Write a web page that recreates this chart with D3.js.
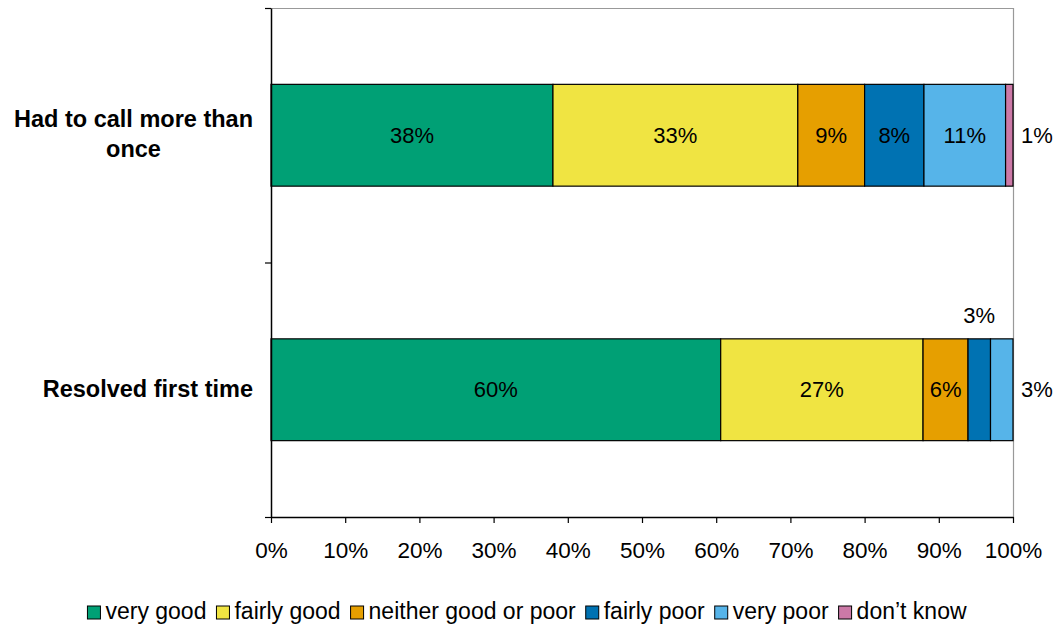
<!DOCTYPE html>
<html>
<head>
<meta charset="utf-8">
<script src="https://cdn.jsdelivr.net/npm/d3@7"></script>
<style>
  html, body { margin: 0; padding: 0; background: #fff; }
  svg { display: block; font-family: "Liberation Sans", Arial, sans-serif; }
</style>
</head>
<body>
<svg id="chart" width="1061" height="625"></svg>
<script>
// Survey responses: rating of service by call outcome (100% stacked)
const categories = ["Had to call more than once", "Resolved first time"];
const categoryLines = [["Had to call more than", "once"], ["Resolved first time"]];
const seriesNames = ["very good", "fairly good", "neither good or poor", "fairly poor", "very poor", "don’t know"];
const seriesColors = ["#00A075", "#F0E442", "#E69F00", "#0072B2", "#56B4E9", "#CC79A7"];

const veryGood   = [38, 60];
const fairlyGood = [33, 27];
const neither    = [9, 6];
const fairlyPoor = [8, 3];
const veryPoor   = [11, 3];
const dontKnow   = [1, 0];

const xTicks = [0, 10, 20, 30, 40, 50, 60, 70, 80, 90, 100];

const seriesValues = [veryGood, fairlyGood, neither, fairlyPoor, veryPoor, dontKnow];

const svg = d3.select("#chart");
const plot = { left: 271, right: 1013, top: 8, bottom: 517 };

// Rows normalised to 100%
const rows = categories.map((c, i) => {
  const row = { category: c };
  seriesNames.forEach((s, j) => { row[s] = seriesValues[j][i]; });
  return row;
});
const totals = rows.map(r => d3.sum(seriesNames, s => r[s]));
const normRows = rows.map((r, i) => {
  const o = { category: r.category };
  seriesNames.forEach(s => { o[s] = r[s] / totals[i] * 100; });
  return o;
});
const stacked = d3.stack().keys(seriesNames)(normRows);

const x = d3.scaleLinear().domain([0, 100]).range([plot.left, plot.right]);
const y = d3.scaleBand().domain(categories).range([plot.top, plot.bottom]).padding(0);
const yEdge = d3.scaleLinear().domain([0, categories.length]).range([plot.top, plot.bottom]);
const barFrac = 0.4;
const barH = y.bandwidth() * barFrac;
const barY = c => y(c) + (y.bandwidth() - barH) / 2;

// plot frame (top and right)
svg.append("line")
  .attr("x1", plot.left).attr("x2", plot.right + 0.5)
  .attr("y1", plot.top + 0.5).attr("y2", plot.top + 0.5)
  .attr("stroke", "#999").attr("stroke-width", 1.2);
svg.append("line")
  .attr("x1", plot.right + 0.5).attr("x2", plot.right + 0.5)
  .attr("y1", plot.top).attr("y2", plot.bottom)
  .attr("stroke", "#999").attr("stroke-width", 1.2);

// bars
const layer = svg.append("g").selectAll("g")
  .data(stacked)
  .join("g")
  .attr("fill", (d, i) => seriesColors[i]);

layer.selectAll("rect")
  .data(d => d.filter(p => p[1] - p[0] > 0))
  .join("rect")
  .attr("x", p => x(p[0]))
  .attr("y", p => barY(p.data.category))
  .attr("width", p => x(p[1]) - x(p[0]))
  .attr("height", barH)
  .attr("stroke", "#000")
  .attr("stroke-width", 1.2);

// value labels
const labelFont = 22;
const labels = svg.append("g").attr("font-size", labelFont).attr("fill", "#000");
categories.forEach((c, ci) => {
  const segs = stacked.map((layerData, si) => ({
    si, p0: layerData[ci][0], p1: layerData[ci][1], raw: seriesValues[si][ci]
  })).filter(s => s.raw > 0);
  const lastIdx = segs.length - 1;
  segs.forEach((s, k) => {
    const w = x(s.p1) - x(s.p0);
    const cy = barY(c) + barH / 2;
    let tx = (x(s.p0) + x(s.p1)) / 2, ty = cy;
    if (w < 30) {
      if (k === lastIdx) { tx = x(s.p1) + 24; }
      else { ty = barY(c) - 24; }
    }
    labels.append("text")
      .attr("x", tx).attr("y", ty)
      .attr("dy", "0.35em")
      .attr("text-anchor", "middle")
      .text(s.raw + "%");
  });
});

// x axis
const xAxis = d3.axisBottom(x)
  .tickValues(xTicks)
  .tickFormat(d => d + "%")
  .tickSize(6).tickSizeOuter(0);
const gx = svg.append("g")
  .attr("transform", `translate(0,${plot.bottom})`)
  .call(xAxis);
gx.select(".domain").attr("stroke", "#000").attr("stroke-width", 1.5);
gx.selectAll(".tick line").attr("stroke", "#000").attr("stroke-width", 1.2);
gx.selectAll(".tick text")
  .attr("font-family", "'Liberation Sans', Arial, sans-serif")
  .attr("font-size", 22.5).attr("fill", "#000")
  .attr("y", 41).attr("dy", "0");

// y axis with ticks between categories
const yAxis = d3.axisLeft(yEdge)
  .tickValues(d3.range(categories.length + 1))
  .tickFormat("")
  .tickSize(6).tickSizeOuter(0);
const gy = svg.append("g")
  .attr("transform", `translate(${plot.left},0)`)
  .call(yAxis);
gy.select(".domain").attr("stroke", "#000").attr("stroke-width", 1.5);
gy.selectAll(".tick line").attr("stroke", "#000").attr("stroke-width", 1.2);

// category labels (wrapped lines centred within a right-aligned block)
const catG = svg.append("g").attr("font-size", 23.5).attr("font-weight", "bold").attr("fill", "#000");
const labelRight = 253;
const lineGap = 30;
categories.forEach((c, ci) => {
  const lines = categoryLines[ci];
  const cy = barY(c) + barH / 2;
  const texts = lines.map((ln, li) => catG.append("text")
    .attr("y", cy + (li - (lines.length - 1) / 2) * lineGap)
    .attr("dy", "0.3em")
    .attr("text-anchor", "middle")
    .text(ln));
  const blockW = d3.max(texts, t => t.node().getComputedTextLength());
  texts.forEach(t => t.attr("x", labelRight - blockW / 2));
});

// legend
const legend = svg.append("g").attr("font-size", 23).attr("fill", "#000");
const sq = 13, sqGap = 5, itemGap = 10, legendBase = 619, legendCenter = 527;
let cursor = 0;
const items = seriesNames.map((name, i) => {
  const g = legend.append("g");
  g.append("rect")
    .attr("x", 0).attr("y", legendBase - sq)
    .attr("width", sq).attr("height", sq)
    .attr("fill", seriesColors[i]).attr("stroke", "#000").attr("stroke-width", 1);
  const t = g.append("text").attr("x", sq + sqGap).attr("y", legendBase).text(name);
  const w = sq + sqGap + t.node().getComputedTextLength();
  g.attr("transform", `translate(${cursor},0)`);
  cursor += w + itemGap;
  return g;
});
const totalW = cursor - itemGap;
legend.attr("transform", `translate(${legendCenter - totalW / 2},0)`);
</script>
</body>
</html>
